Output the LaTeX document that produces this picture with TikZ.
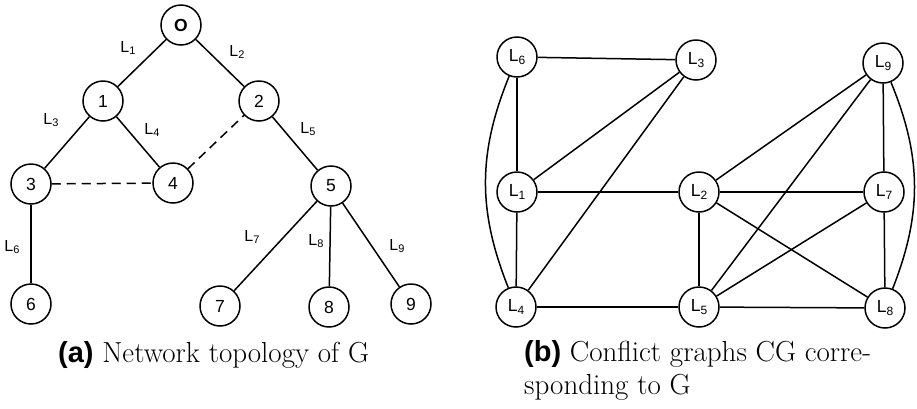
\documentclass[tikz,border=0pt]{standalone}
\usepackage{fontspec}
\newfontfamily\arialf{Liberation Sans}
\newcommand\Lsub[1]{L\raisebox{-0.3ex}{\fontsize{12}{12}\selectfont #1}}
\newcommand\Lsmall[1]{L\raisebox{-0.3ex}{\fontsize{11}{11}\selectfont #1}}
\begin{document}
\begin{tikzpicture}[x=1pt,y=-1pt,
  vnode/.style={circle,draw,line width=1.5pt,minimum size=40pt,inner sep=0pt,font=\arialf\fontsize{17.5}{17.5}\selectfont},
  edge/.style={line width=1.5pt},
  dashedge/.style={line width=1.5pt,dash pattern=on 9pt off 6pt},
  elabel/.style={inner sep=0pt,font=\arialf\fontsize{16}{16}\selectfont},
  capt/.style={inner sep=0pt,font=\fontsize{29}{33}\selectfont,align=left}]
\useasboundingbox (0,0) rectangle (917,408);
% (a) tree
\node[vnode] (o) at (181,25) {\textbf{O}};
\node[vnode] (n1) at (103,101) {1};
\node[vnode] (n2) at (259,101) {2};
\node[vnode] (n3) at (31,184) {3};
\node[vnode] (n4) at (173,183) {4};
\node[vnode] (n5) at (331,186) {5};
\node[vnode] (n6) at (31,304) {6};
\node[vnode] (n7) at (220,306) {7};
\node[vnode] (n8) at (329,307) {8};
\node[vnode] (n9) at (411,304) {9};
\draw[edge] (o) -- (n1);
\draw[edge] (o) -- (n2);
\draw[edge] (n1) -- (n3);
\draw[edge] (n1) -- (n4);
\draw[edge] (n2) -- (n5);
\draw[edge] (n3) -- (n6);
\draw[edge] (n5) -- (n7);
\draw[edge] (n5) -- (n8);
\draw[edge] (n5) -- (n9);
\draw[dashedge] (n3) -- (n4);
\draw[dashedge] (n4) -- (n2);
\node[elabel] (l1) at (128,48) {\Lsmall{1}};
\node[elabel] (l2) at (237,52) {\Lsmall{2}};
\node[elabel] (l3) at (51,120) {\Lsmall{3}};
\node[elabel] (l4) at (152,130) {\Lsmall{4}};
\node[elabel] (l5) at (308,129) {\Lsmall{5}};
\node[elabel] (l6) at (12,247) {\Lsmall{6}};
\node[elabel] (l7) at (252,237) {\Lsmall{7}};
\node[elabel] (l8) at (316,241) {\Lsmall{8}};
\node[elabel] (l9) at (397,246) {\Lsmall{9}};
% (b) conflict graph
\node[vnode] (c6) at (517,57) {\Lsub{6}};
\node[vnode] (c3) at (696,60) {\Lsub{3}};
\node[vnode] (c9) at (883,63) {\Lsub{9}};
\node[vnode] (c1) at (517,192) {\Lsub{1}};
\node[vnode] (c2) at (699,192) {\Lsub{2}};
\node[vnode] (c7) at (884,192) {\Lsub{7}};
\node[vnode] (c4) at (516,307) {\Lsub{4}};
\node[vnode] (c5) at (699,307) {\Lsub{5}};
\node[vnode] (c8) at (885,308) {\Lsub{8}};
\draw[edge] (c6) -- (c3);
\draw[edge] (c6) -- (c1);
\draw[edge] (c6) to[bend right=22] (c4);
\draw[edge] (c3) -- (c1);
\draw[edge] (c3) -- (c4);
\draw[edge] (c9) -- (c2);
\draw[edge] (c9) -- (c5);
\draw[edge] (c9) -- (c7);
\draw[edge] (c9) to[bend left=22] (c8);
\draw[edge] (c1) -- (c2);
\draw[edge] (c1) -- (c4);
\draw[edge] (c2) -- (c7);
\draw[edge] (c2) -- (c5);
\draw[edge] (c2) -- (c8);
\draw[edge] (c7) -- (c5);
\draw[edge] (c7) -- (c8);
\draw[edge] (c4) -- (c5);
\draw[edge] (c5) -- (c8);
% captions
\node[capt,anchor=base west] (capa) at (58,362) {{\arialf\bfseries (a)} Network topology of G};
\node[capt,anchor=north west] (capb) at (524,340) {{\arialf\bfseries (b)} Conflict graphs CG corre-\\sponding to G};
\end{tikzpicture}
\end{document}
